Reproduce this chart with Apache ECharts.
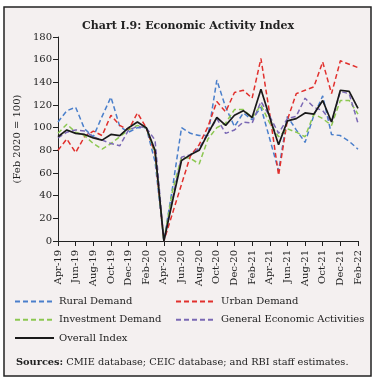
<!DOCTYPE html>
<html>
<head>
<meta charset="utf-8">
<script src="https://cdn.jsdelivr.net/npm/echarts@6/dist/echarts.min.js"></script>
<style>
  html, body { margin: 0; padding: 0; background: #fff; }
  #chart { width: 376px; height: 381px; }
</style>
</head>
<body>
<div id="chart"></div>
<script>
// months Apr-19 .. Feb-22
const months = [
  'Apr-19', 'May-19', 'Jun-19', 'Jul-19', 'Aug-19', 'Sep-19', 'Oct-19', 'Nov-19', 'Dec-19',
  'Jan-20', 'Feb-20', 'Mar-20', 'Apr-20', 'May-20', 'Jun-20', 'Jul-20', 'Aug-20', 'Sep-20',
  'Oct-20', 'Nov-20', 'Dec-20', 'Jan-21', 'Feb-21', 'Mar-21', 'Apr-21', 'May-21', 'Jun-21',
  'Jul-21', 'Aug-21', 'Sep-21', 'Oct-21', 'Nov-21', 'Dec-21', 'Jan-22', 'Feb-22',
];

const rural = [105, 115, 118, 99, 92, 110, 127, 101, 96, 100, 100, 70, 0, 48, 100, 95, 93, 93,
  142, 118, 101, 113, 107, 118, 90, 62, 110, 98, 87, 111, 128, 94, 93, 88, 81];
const urban = [80, 90, 78, 92, 97, 93, 111, 102, 98, 113, 100, 77, 0, 25, 50, 75, 85, 101,
  123, 114, 131, 133, 126, 161, 112, 58, 107, 130, 133, 136, 158, 130, 159, 156, 153];
const investment = [95, 103, 96, 93, 86, 81, 86, 92, 98, 102, 100, 78, 0, 45, 74, 73, 68, 90,
  100, 104, 116, 116, 109, 120, 104, 92, 99, 96, 92, 112, 108, 102, 124, 124, 112];
const general = [91, 96, 98, 97, 92, 89, 86, 84, 98, 101, 100, 89, 0, 38, 74, 76, 82, 95,
  108, 95, 98, 105, 104, 123, 110, 95, 108, 110, 126, 118, 115, 105, 132, 130, 104];
const overall = [92, 98, 95, 94, 91, 89, 94, 93, 100, 105, 100, 80, 0, 36, 71, 76, 80, 95,
  109, 102, 111, 115, 109, 134, 109, 85, 106, 108, 113, 112, 124, 105, 133, 132, 117];

const names = ['Rural Demand', 'Urban Demand', 'Investment Demand', 'General Economic Activities', 'Overall Index'];
const colors = ['#4a7fcb', '#e1302d', '#8cc751', '#7a68b4', '#1a1a1a'];

const font = 'DejaVu Serif';

function makeSeries(name, data, color, solid) {
  return {
    name: name,
    type: 'line',
    data: data,
    symbol: 'none',
    animation: false,
    lineStyle: {
      color: color,
      width: solid ? 1.7 : 1.5,
      type: solid ? 'solid' : [5, 3],
    },
    itemStyle: { color: color },
  };
}

const legendText = { fontFamily: font, fontSize: 10, color: '#222' };

const option = {
  backgroundColor: '#fff',
  title: {
    text: 'Chart I.9: Economic Activity Index',
    left: 'center',
    top: 16,
    textStyle: { fontFamily: font, fontSize: 11, fontWeight: 'bold', color: '#222' },
  },
  graphic: [
    {
      type: 'rect',
      z: -10,
      shape: { x: 4, y: 7, width: 367, height: 369 },
      style: { fill: '#f4f0f0', stroke: '#222', lineWidth: 1.5 },
    },
    {
      type: 'text',
      left: 16,
      top: 357,
      style: {
        text: '{b|Sources:} CMIE database; CEIC database; and RBI staff estimates.',
        fontFamily: font,
        fontSize: 9.8,
        fill: '#222',
        rich: {
          b: { fontFamily: font, fontSize: 9.8, fontWeight: 'bold', fill: '#222' },
        },
      },
    },
  ],
  legend: [
    {
      orient: 'vertical',
      left: 14,
      top: 296,
      padding: 0,
      itemWidth: 39,
      itemHeight: 14,
      itemGap: 7,
      itemStyle: { opacity: 0 },
      data: [names[0], names[2], names[4]],
      textStyle: legendText,
    },
    {
      orient: 'vertical',
      left: 175,
      top: 296,
      padding: 0,
      itemWidth: 40,
      itemHeight: 14,
      itemGap: 7,
      itemStyle: { opacity: 0 },
      data: [names[1], names[3]],
      textStyle: legendText,
    },
  ],
  grid: {
    left: 58,
    right: 18,
    top: 37,
    bottom: 140,
  },
  xAxis: {
    type: 'category',
    boundaryGap: false,
    data: months,
    axisLine: { lineStyle: { color: '#222', width: 1 } },
    axisTick: { interval: 1, length: 5, lineStyle: { color: '#222' } },
    axisLabel: {
      interval: 1,
      rotate: 90,
      margin: 9,
      fontFamily: font,
      fontSize: 10,
      color: '#222',
    },
    splitLine: { show: false },
  },
  yAxis: {
    type: 'value',
    min: 0,
    max: 180,
    interval: 20,
    name: '(Feb 2020 = 100)',
    nameLocation: 'middle',
    nameRotate: 90,
    nameGap: 30,
    nameTextStyle: { fontFamily: font, fontSize: 10, color: '#222' },
    axisLine: { show: true, lineStyle: { color: '#222', width: 1 } },
    axisTick: { show: true, length: 5, lineStyle: { color: '#222' } },
    axisLabel: { margin: 6, fontFamily: font, fontSize: 10, color: '#222' },
    splitLine: { show: false },
  },
  series: [
    makeSeries(names[0], rural, colors[0], false),
    makeSeries(names[1], urban, colors[1], false),
    makeSeries(names[2], investment, colors[2], false),
    makeSeries(names[3], general, colors[3], false),
    makeSeries(names[4], overall, colors[4], true),
  ],
};

const mychart = echarts.init(document.getElementById('chart'));
mychart.setOption(option);
</script>
</body>
</html>
